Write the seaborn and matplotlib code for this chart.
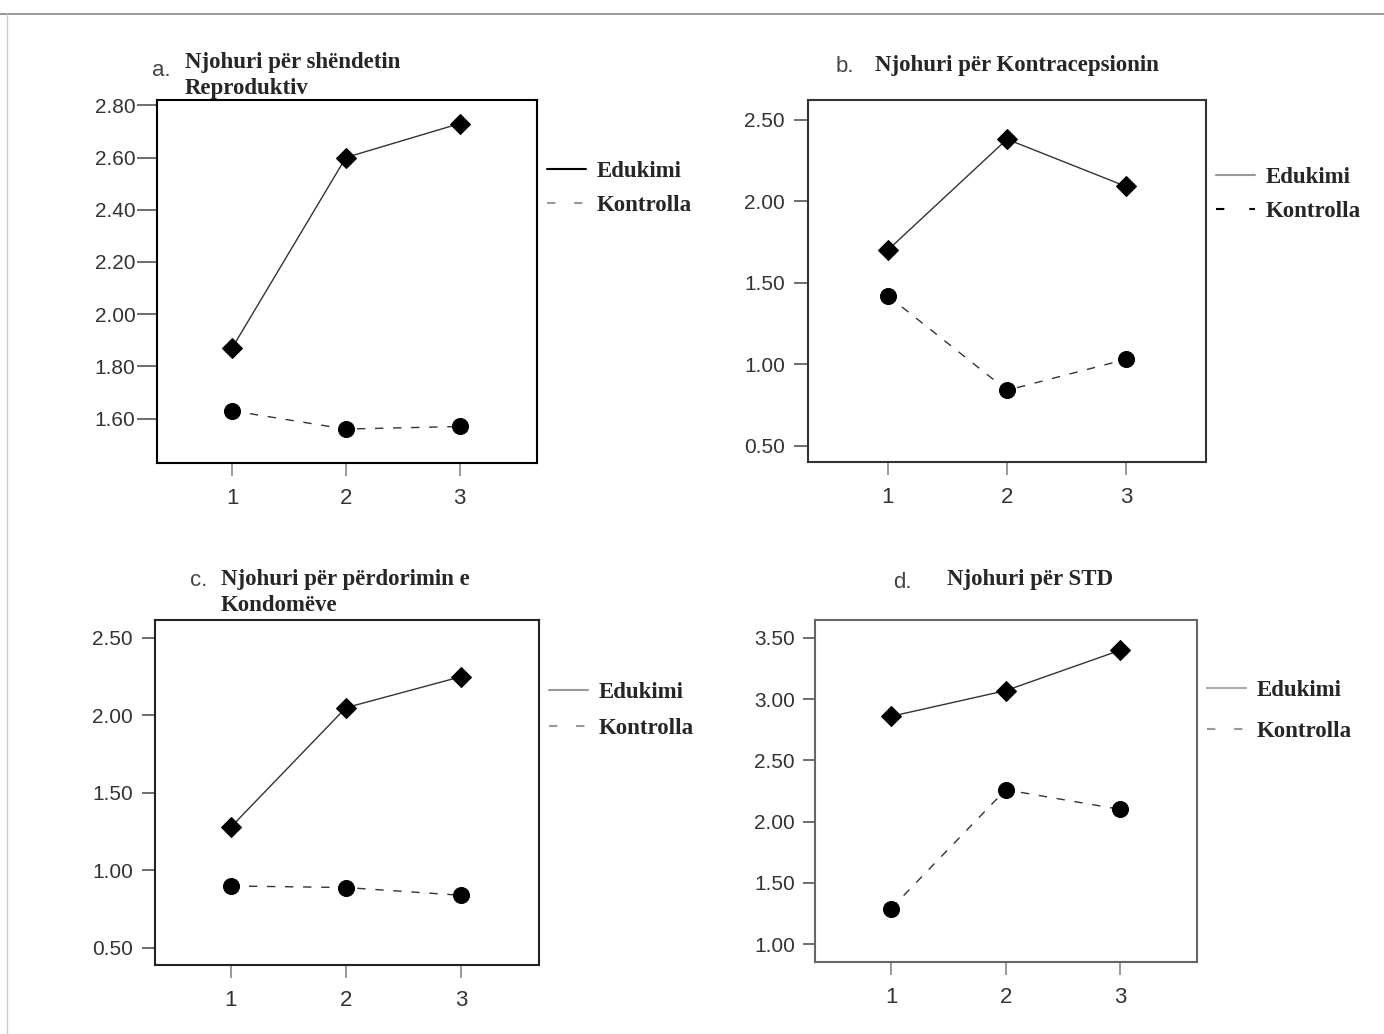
import numpy as np
import pandas as pd
import seaborn as sns
import matplotlib.pyplot as plt
from matplotlib.lines import Line2D

# Data (time point 1..3, mean knowledge scores)
times = [1, 2, 3]
groups = ["Edukimi", "Kontrolla"]

a_edukimi = [1.87, 2.60, 2.73]
a_kontrolla = [1.63, 1.56, 1.57]
b_edukimi = [1.70, 2.38, 2.09]
b_kontrolla = [1.42, 0.84, 1.03]
c_edukimi = [1.28, 2.05, 2.25]
c_kontrolla = [0.90, 0.89, 0.84]
d_edukimi = [2.86, 3.07, 3.40]
d_kontrolla = [1.29, 2.26, 2.10]

letters = ["a.", "b.", "c.", "d."]
titles = ["Njohuri për shëndetin\nReproduktiv",
          "Njohuri për Kontracepsionin",
          "Njohuri për përdorimin e\nKondomëve",
          "Njohuri për STD"]
y_ticks = [[1.60, 1.80, 2.00, 2.20, 2.40, 2.60, 2.80],
           [0.50, 1.00, 1.50, 2.00, 2.50],
           [0.50, 1.00, 1.50, 2.00, 2.50],
           [1.00, 1.50, 2.00, 2.50, 3.00, 3.50]]


def make_frame(edu, kon):
    return pd.DataFrame({"Koha": times * 2,
                         "Vlera": edu + kon,
                         "Grupi": ["Edukimi"] * 3 + ["Kontrolla"] * 3})


frames = [make_frame(a_edukimi, a_kontrolla), make_frame(b_edukimi, b_kontrolla),
          make_frame(c_edukimi, c_kontrolla), make_frame(d_edukimi, d_kontrolla)]

sns.set_style("white")
plt.rcParams["font.family"] = ["Liberation Sans", "DejaVu Sans"]

fig = plt.figure(figsize=(13.84, 10.34), dpi=100)
W, H = 1384, 1034

# axes boxes in figure fractions
boxes = [[0.1134, 0.5522, 0.2746, 0.3510],
         [0.5838, 0.5532, 0.2876, 0.3500],
         [0.1120, 0.0667, 0.2775, 0.3337],
         [0.5889, 0.0696, 0.2760, 0.3308]]
ylims = [(1.43, 2.82), (0.40, 2.62), (0.39, 2.616), (0.853, 3.647)]
xlims = [(0.34, 3.68), (0.33, 3.67), (0.34, 3.68), (0.336, 3.67)]

# y tick length / pad (points) differ a little per panel
ytick_len = [14.4, 10.0, 9.4, 8.6]
ytick_pad = [1.0, 6.5, 6.5, 6.0]

# letter (x, y centre), title (x, y top) in pixels
letter_pos = [(152, 70), (836, 66), (190, 580), (893, 582)]
title_pos = [(185, 52), (875, 55), (221, 569), (947, 569)]
# legend handle colours (solid, dashed)
leg_cols = [("black", "#999999"), ("#999999", "black"), ("#999999", "#999999"), ("#aaaaaa", "#999999")]
leg_dash = [(0, (4, 9)), (0, (4, 12)), (0, (4, 9)), (0, (4, 9))]
leg_pos = [(547, 173), (1216, 179), (549, 694), (1207, 692)]
leg_space = [0.55, 0.55, 0.67, 0.85]
spine_cols = ["black", "#333333", "#222222", "#666666"]

for i in range(4):
    ax = fig.add_axes(boxes[i])
    sns.lineplot(data=frames[i], x="Koha", y="Vlera", hue="Grupi", style="Grupi",
                 palette={"Edukimi": "#333333", "Kontrolla": "#333333"},
                 markers={"Edukimi": "D", "Kontrolla": "o"},
                 dashes={"Edukimi": "", "Kontrolla": (6, 7)},
                 linewidth=1.0, markersize=10, markeredgecolor="black",
                 legend=False, ax=ax)
    for ln in ax.lines:
        ln.set_markerfacecolor("black")
        if ln.get_marker() == "D":
            ln.set_markersize(10.5)
        else:
            ln.set_markersize(11.5)
    ax.set_xlim(xlims[i])
    ax.set_ylim(ylims[i])
    ax.set_xticks(times)
    ax.set_yticks(y_ticks[i])
    ax.set_yticklabels(["%.2f" % v for v in y_ticks[i]])
    ax.set_xlabel("")
    ax.set_ylabel("")
    for s in ax.spines.values():
        s.set_color(spine_cols[i])
        s.set_linewidth(1.5)
    ax.tick_params(axis="y", length=ytick_len[i], width=1.2, color="#555555",
                   pad=ytick_pad[i], labelsize=15, labelcolor="#333333", left=True)
    ax.tick_params(axis="x", length=9.4, width=1.2, color="#888888", pad=8.5,
                   labelsize=16, labelcolor="#333333", bottom=True)

    # panel titles
    lx, ly = letter_pos[i]
    fig.text(lx / W, 1 - ly / H, letters[i], fontsize=16, color="#444444",
             ha="left", va="center")
    tx, ty = title_pos[i]
    fig.text(tx / W, 1 - ty / H, titles[i], fontsize=16.5, fontweight="bold",
             family="Liberation Serif", ha="left", va="top", linespacing=1.32)

    # legend outside on the right
    handles = [Line2D([0], [0], color=leg_cols[i][0], lw=1.5, ls="-"),
               Line2D([0], [0], color=leg_cols[i][1], lw=1.5, ls=leg_dash[i])]
    px, py = leg_pos[i]
    ax.legend(handles, groups, loc="upper left", frameon=False,
              bbox_to_anchor=(px / W, 1 - (py - 12) / H),
              bbox_transform=fig.transFigure, borderpad=0, borderaxespad=0,
              handlelength=1.7, handletextpad=0.45, labelspacing=leg_space[i],
              prop={"family": "Liberation Serif", "weight": "bold", "size": 16.5})

# thin page frame lines
fig.add_artist(Line2D([0, 1], [1 - 14 / H, 1 - 14 / H], transform=fig.transFigure,
                      color="#888888", lw=1.2))
fig.add_artist(Line2D([7 / W, 7 / W], [0, 1 - 14 / H], transform=fig.transFigure,
                      color="#cccccc", lw=1.0))

fig.savefig("out.png", dpi=100, facecolor="white")
